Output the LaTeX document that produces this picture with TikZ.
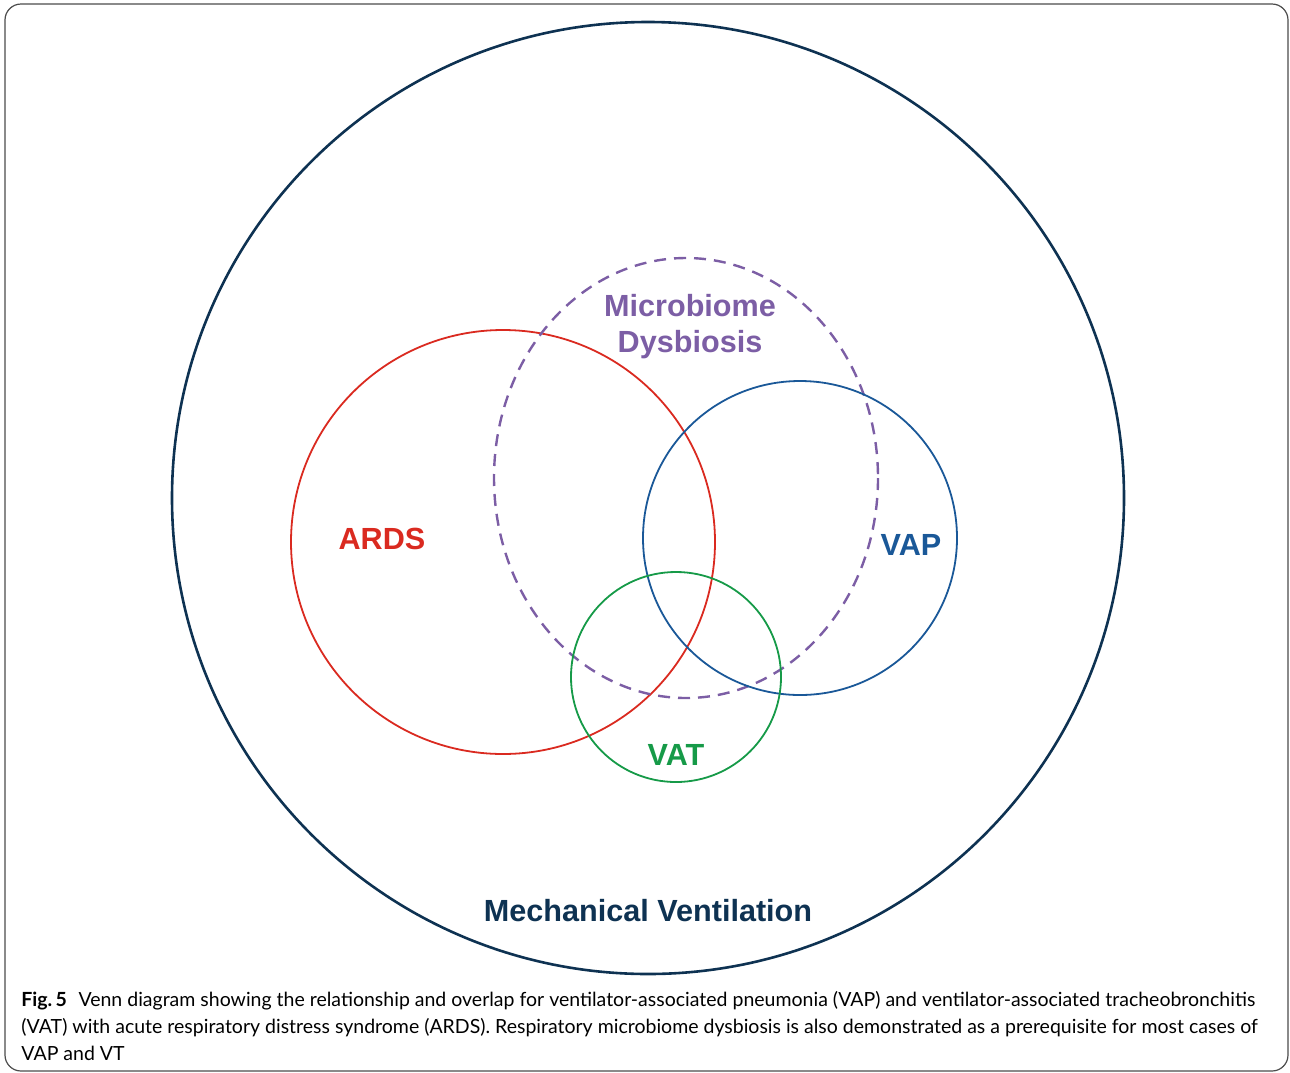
\documentclass[tikz,border=0pt]{standalone}
\usepackage{fontspec}
\setmainfont{Lato}
\newfontfamily\vennfont{Liberation Sans}
\definecolor{navyMV}{RGB}{14, 50, 82}
\definecolor{redARDS}{RGB}{218, 42, 32}
\definecolor{purpleMD}{RGB}{124, 94, 165}
\definecolor{blueVAP}{RGB}{26, 88, 152}
\definecolor{greenVAT}{RGB}{22, 154, 72}

\begin{document}
\begin{tikzpicture}[x=0.5pt,y=-0.5pt,
    lbl/.style={font=\vennfont\bfseries\fontsize{15.3}{18}\selectfont, align=center},
    ring/.style={line width=0.9pt}]
    \useasboundingbox (0,0) rectangle (1290,1072);
    \draw[color=black!70, line width=0.6pt, rounded corners=8pt] (5,4) rectangle (1288,1071);
    % sets
    \draw[color=navyMV, line width=1.3pt] (648,498) circle[radius=476];
    \draw[ring, color=redARDS] (503,542) circle[radius=212];
    \draw[ring, color=purpleMD, line width=1.2pt, dash pattern=on 6pt off 4pt]
      (686,478) ellipse[x radius=192, y radius=220];
    \draw[ring, color=blueVAP] (800,538) circle[radius=157];
    \draw[ring, color=greenVAT] (676,677) circle[radius=105];
    % labels
    \node[lbl, text=purpleMD] (md) at (690,327) {Microbiome\\Dysbiosis};
    \node[lbl, text=redARDS] (ards) at (382,539) {ARDS};
    \node[lbl, text=blueVAP] (vap) at (911,545) {VAP};
    \node[lbl, text=greenVAT] (vat) at (676,755) {VAT};
    \node[lbl, text=navyMV] (mv) at (648,911) {Mechanical Ventilation};
    % caption
    \node[anchor=base west, align=left, inner sep=0pt,
      font=\fontsize{9.75}{13.5}\selectfont] (cap) at (21,1060)
      {{\bfseries Fig.\,5}\hspace{0.6em}Venn diagram showing the relationship and overlap for ventilator-associated pneumonia (VAP) and ventilator-associated tracheobronchitis\\
      (VAT) with acute respiratory distress syndrome (ARDS). Respiratory microbiome dysbiosis is also demonstrated as a prerequisite for most cases of\\
      VAP and VT};
\end{tikzpicture}
\end{document}
